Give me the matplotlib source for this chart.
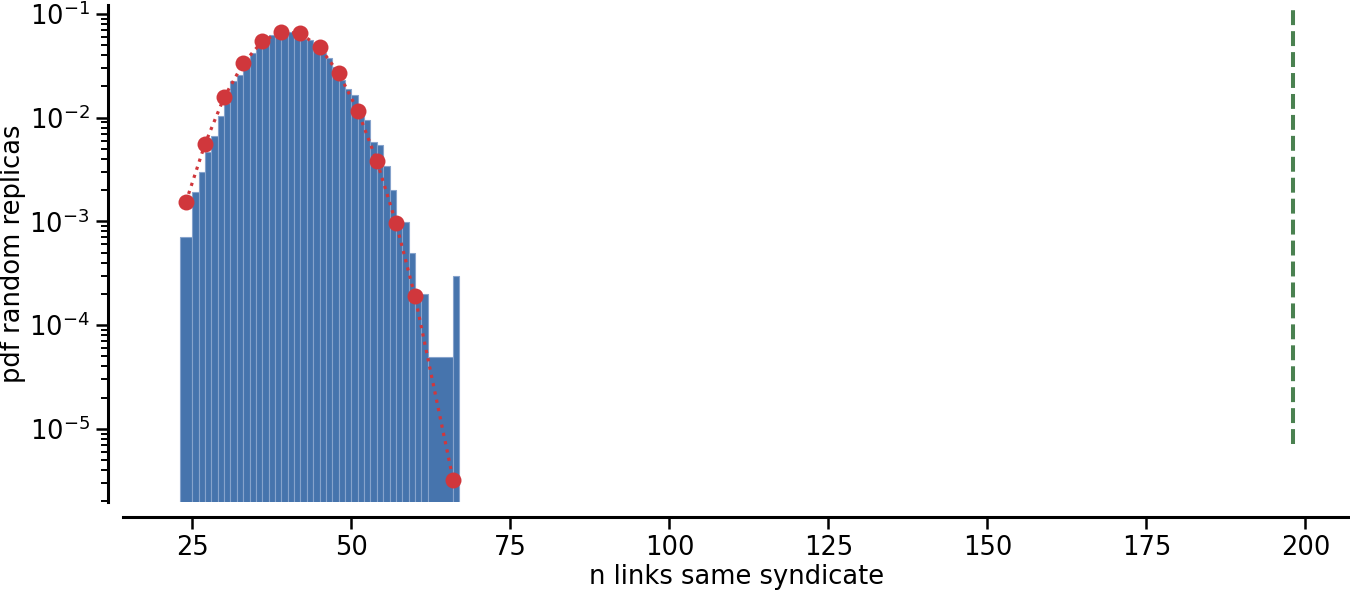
import numpy as np
import matplotlib
matplotlib.use("Agg")
import matplotlib.pyplot as plt


# histogram of random replicas (bin edges and pdf per bin)
BIN_EDGES = [23, 25, 26, 27, 28, 29, 30, 31, 32, 33, 34, 35, 36, 37, 38, 39, 40,
             41, 42, 43, 44, 45, 46, 47, 48, 49, 50, 51, 52, 53, 54, 55, 56, 57,
             58, 59, 60, 61, 62, 66, 67]
BIN_PDF = [7.0e-4, 1.9e-3, 3.0e-3, 4.7e-3, 6.6e-3, 1.05e-2, 1.38e-2, 2.26e-2,
           2.58e-2, 3.29e-2, 4.17e-2, 4.8e-2, 5.6e-2, 6.3e-2, 6.6e-2, 6.7e-2,
           6.75e-2, 6.6e-2, 5.8e-2, 5.6e-2, 5.1e-2, 4.17e-2, 3.73e-2, 3.1e-2,
           2.3e-2, 1.89e-2, 1.65e-2, 1.24e-2, 9.5e-3, 5.8e-3, 5.4e-3, 3.4e-3,
           2.0e-3, 9.9e-4, 9.9e-4, 5.0e-4, 2.0e-4, 2.0e-4, 4.9e-5, 3.0e-4]

# coarser pdf estimate (red dots)
DOT_X = [24, 27, 30, 33, 36, 39, 42, 45, 48, 51, 54, 57, 60, 66]
DOT_PDF = [1.54e-3, 5.6e-3, 1.57e-2, 3.34e-2, 5.45e-2, 6.75e-2, 6.5e-2, 4.77e-2,
           2.7e-2, 1.17e-2, 3.84e-3, 9.75e-4, 1.9e-4, 3.23e-6]

# observed value (green dashed line)
OBSERVED_X = 198
OBSERVED_Y = [7.2e-6, 0.117]

X_TICKS = [25, 50, 75, 100, 125, 150, 175, 200]


def plot_pdf(output_path: str) -> None:
    fig = plt.figure(figsize=(13.5, 5.93), dpi=100)
    ax = fig.add_axes([0.0911, 0.1535, 0.9089, 0.838])

    edges = np.array(BIN_EDGES, dtype=float)
    ax.bar(edges[:-1], BIN_PDF, width=np.diff(edges), align="edge",
           color="#4674ad", edgecolor="#86a3cc", linewidth=0.8)
    ax.plot(DOT_X, DOT_PDF, ls=":", lw=2.3, color="#d0373c",
            marker="o", markersize=11.5, markeredgewidth=0)
    ax.plot([OBSERVED_X, OBSERVED_X], OBSERVED_Y, color="#4a8150", lw=2.9,
            dashes=(3.7, 1.5))

    ax.set_yscale("log")
    ax.set_xlim(14.1, 207)
    ax.set_ylim(1.97e-6, 0.122)
    ax.set_xticks(X_TICKS)

    ax.set_xlabel("n links same syndicate", fontsize=18.5, labelpad=2)
    ax.set_ylabel("pdf random replicas", fontsize=18.5, labelpad=2)

    for side in ("top", "right"):
        ax.spines[side].set_visible(False)
    for side in ("left", "bottom"):
        ax.spines[side].set_position(("outward", 11))
        ax.spines[side].set_linewidth(2.2)
    ax.tick_params(which="major", length=8.6, width=1.8, labelsize=18.5, pad=4.5)
    ax.tick_params(which="minor", length=5.2, width=1.4)

    fig.savefig(output_path, dpi=100)
    plt.close(fig)


def main() -> None:
    plot_pdf("out.png")


if __name__ == "__main__":
    main()
